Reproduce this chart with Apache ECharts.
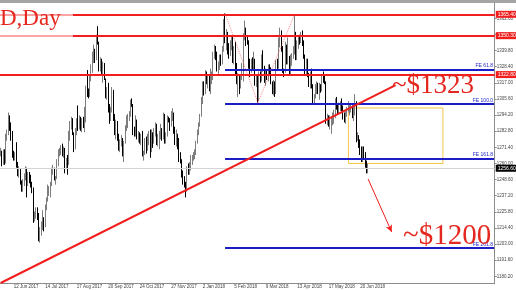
<!DOCTYPE html>
<html><head><meta charset="utf-8">
<script src="https://cdn.jsdelivr.net/npm/echarts@6/dist/echarts.min.js"></script>
<style>html,body{margin:0;padding:0;background:#fff}#c{width:516px;height:290px}</style>
</head><body><div id="c"></div><script>
// ---- Daily XAUUSD data (29 May 2017 .. 28 Jun 2018) ----
const closes = [
1268,1262,1268,
1264,1279,1281,1293,1287,1280,1266,1265,1265,1260,1254,1254,1246,1242,1246,1249,1256,1246,1250,1249,1244,1242,
1219,1225,1227,1223,1209,1213,1215,1219,1217,1228,1234,1241,1241,1245,1255,1255,1250,1250,1260,1269,1269,
1270,1268,1268,1258,1262,1260,1278,1288,1289,1281,1273,1282,1289,1285,1292,1284,1289,1286,1290,1313,1310,1309,1321,
1324,1335,1339,1334,1349,1346,1328,1331,1324,1329,1320,1307,1311,1301,1293,1297,1311,1294,1283,1287,1280,
1271,1274,1275,1268,1274,1285,1290,1293,1297,1303,1302,1283,1281,1290,1279,1281,1276,1278,1266,1266,1275,1270,
1275,1277,1269,1281,1275,1282,1285,1274,1278,1281,1283,1278,1294,1276,1280,1292,1290,1287,1294,1294,1282,1275,
1280,1276,1266,1263,1253,1248,1246,1242,1257,1255,1256,1261,1264,1266,1267,1275,1282,1287,1294,1303,
1316,1312,1321,1320,1320,1313,1319,1322,1338,1340,1336,1327,1327,1333,1332,1341,1360,1348,1351,1340,1339,1343,
1348,1333,1338,1325,1318,1318,1315,1321,1329,1350,1354,1347,1346,1330,1324,1332,1330,1332,1318,1318,
1305,1323,1320,1335,1327,1322,1324,1321,1327,1325,1317,1313,1317,1311,1331,1328,1347,1354,1341,1325,1324,
1343,1333,1333,1326,1332,1336,1339,1352,1334,1345,1347,1346,1349,1344,1336,1323,1332,1323,1316,1323,1315,
1304,1306,1313,1314,1313,1313,1312,1321,1320,1318,1290,1291,1290,1291,1291,1291,1293,1304,1302,1297,1299,1302,1298,
1293,1292,1295,1298,1298,1298,1298,1293,1298,1302,1278,1279,1276,1268,1262,1269,1266,1260,1256,1257
];
const highs = [
1271,1269,1270,
1270,1281,1284,1296,1294,1289,1283,1269,1268,1275,1261,1258,1256,1248,1249,1253,1258,1257,1254,1254,1252,1247,
1243,1226,1229,1229,1225,1215,1219,1227,1222,1231,1236,1245,1244,1247,1257,1259,1257,1251,1263,1270,1271,
1273,1274,1272,1271,1264,1266,1283,1290,1293,1292,1282,1285,1292,1301,1294,1293,1292,1293,1300,1315,1326,1313,1322,
1330,1339,1344,1341,1351,1357,1335,1335,1334,1332,1331,1320,1314,1317,1302,1300,1314,1312,1295,1291,1290,
1281,1277,1280,1278,1276,1287,1294,1295,1297,1305,1306,1302,1286,1294,1291,1283,1282,1281,1283,1269,1278,1279,
1281,1283,1284,1284,1282,1285,1289,1288,1281,1283,1288,1285,1296,1295,1282,1294,1293,1292,1297,1299,1296,1286,
1284,1281,1278,1268,1263,1255,1251,1247,1258,1260,1261,1266,1266,1268,1270,1276,1284,1289,1295,1307,
1318,1318,1326,1325,1322,1322,1327,1325,1339,1344,1343,1339,1332,1337,1337,1343,1362,1366,1355,1353,1345,1347,
1350,1350,1343,1346,1331,1324,1322,1323,1331,1352,1361,1356,1350,1347,1334,1334,1335,1339,1334,1323,
1322,1325,1325,1337,1340,1329,1327,1326,1330,1330,1328,1318,1319,1318,1333,1334,1349,1356,1354,1343,1327,
1346,1344,1349,1336,1337,1338,1343,1365,1353,1347,1350,1351,1353,1354,1347,1337,1334,1334,1324,1325,1327,
1316,1309,1316,1318,1317,1317,1316,1323,1325,1322,1318,1295,1294,1294,1293,1296,1298,1306,1307,1302,1303,1304,1306,
1301,1296,1297,1300,1304,1302,1302,1301,1300,1309,1304,1282,1280,1277,1272,1272,1272,1268,1262,1260
];
const lows = [
1265,1258,1259,
1259,1260,1276,1280,1283,1276,1264,1262,1262,1257,1251,1250,1245,1240,1240,1244,1248,1236,1244,1246,1243,1239,
1218,1219,1221,1220,1205,1204,1209,1213,1212,1215,1227,1233,1237,1236,1244,1252,1248,1245,1249,1258,1265,
1266,1265,1264,1253,1256,1252,1259,1276,1284,1280,1268,1270,1280,1283,1284,1283,1282,1285,1282,1289,1307,1306,1307,
1318,1325,1331,1331,1333,1344,1325,1325,1322,1317,1319,1306,1305,1296,1288,1290,1296,1290,1280,1277,1276,
1269,1268,1272,1265,1261,1274,1283,1285,1290,1293,1300,1280,1279,1279,1277,1275,1274,1273,1265,1262,1266,1267,
1269,1273,1264,1268,1271,1274,1279,1273,1272,1270,1277,1276,1277,1274,1274,1279,1289,1283,1286,1290,1281,1273,
1272,1270,1261,1260,1250,1245,1243,1236,1240,1252,1252,1255,1259,1262,1263,1266,1274,1280,1286,1293,
1302,1308,1309,1316,1313,1311,1309,1316,1319,1334,1333,1325,1322,1326,1329,1330,1339,1345,1340,1337,1334,1336,
1340,1331,1330,1323,1316,1307,1309,1313,1319,1318,1347,1343,1344,1327,1321,1324,1326,1326,1315,1314,
1303,1304,1317,1318,1325,1317,1315,1319,1318,1322,1316,1309,1308,1307,1309,1326,1327,1342,1339,1324,1321,
1324,1330,1330,1322,1323,1329,1334,1337,1333,1333,1341,1344,1345,1343,1334,1322,1322,1321,1314,1313,1313,
1302,1302,1306,1309,1309,1305,1310,1311,1317,1316,1288,1287,1286,1284,1281,1287,1288,1292,1298,1295,1295,1297,1297,
1291,1289,1288,1293,1296,1294,1296,1292,1290,1294,1275,1276,1271,1266,1261,1261,1263,1257,1253,1253
];
const firstOpen = 1266;

const priceTicks = [1180.2,1191.6,1203.0,1214.4,1225.8,1237.2,1248.6,1260.0,1271.4,1282.8,1294.2,1305.6,1317.0,1328.4,1339.8,1351.2,1362.6,1374.0];
const dateTicks = ['12 Jun 2017','14 Jul 2017','17 Aug 2017','20 Sep 2017','24 Oct 2017','27 Nov 2017','2 Jan 2018','5 Feb 2018','9 Mar 2018','13 Apr 2018','17 May 2018','20 Jun 2018'];
const holidays = ['2017-12-25','2018-01-01','2018-03-30'];

const redLevels = [1365.4, 1350.3, 1322.8];
const feLevels = [1326.5, 1301.9, 1263.5, 1200.5];
const feNames = ['FE 61.8','FE 100.0','FE 161.8','FE 261.8'];
const lastPrice = 1256.6;
const feA = ['25 Jan 2018', 1366.0];
const feB = ['1 Mar 2018', 1303.0];
const feC = ['11 Apr 2018', 1365.4];
const trendStart = ['29 May 2017', 1175.5];
const trendEnd = ['27 Jul 2018', 1315.4];
const boxStart = ['7 Jun 2018', 1299.2];
const boxEnd = ['17 Sep 2018', 1260.0];
const arrowStart = ['28 Jun 2018', 1249.0];
const arrowEnd = ['24 Jul 2018', 1211.5];

// ---- categories (trading days incl. future blank days) ----
const MON = ['Jan','Feb','Mar','Apr','May','Jun','Jul','Aug','Sep','Oct','Nov','Dec'];
const cats = [];
{
  const d = new Date(Date.UTC(2017,4,29));
  while (cats.length < 377) {
    const wd = d.getUTCDay(), iso = d.toISOString().slice(0,10);
    if (wd !== 0 && wd !== 6 && holidays.indexOf(iso) < 0)
      cats.push(d.getUTCDate() + ' ' + MON[d.getUTCMonth()] + ' ' + d.getUTCFullYear());
    d.setUTCDate(d.getUTCDate() + 1);
  }
}
const lastCat = cats[cats.length - 1];
const ohlc = closes.map((c, i) => {
  const o = i ? closes[i-1] : firstOpen;
  return [o, c, Math.min(lows[i], o, c), Math.max(highs[i], o, c)];
});

const RED = '#f21d1d', BLUE = '#1d1dc8';
const tickSet = new Set(dateTicks);
const lines = [];
redLevels.forEach(v => lines.push({
  yAxis: v, lineStyle: {color: RED, width: 2, type: 'solid'},
  label: {show: true, position: 'end', distance: 1, formatter: v.toFixed(2), backgroundColor: RED, color: '#fff', fontSize: 5, padding: [1,2], fontFamily: 'Liberation Sans'}
}));
lines.push({
  yAxis: lastPrice, lineStyle: {color: '#d4d4d4', width: 1, type: 'solid'},
  label: {show: true, position: 'end', distance: 1, formatter: lastPrice.toFixed(2), backgroundColor: '#000', color: '#fff', fontSize: 5, padding: [1,2], fontFamily: 'Liberation Sans'}
});
feLevels.forEach((v, i) => lines.push([
  {coord: [feA[0], v], lineStyle: {color: BLUE, width: 2, type: 'solid'},
   label: {show: true, position: 'insideEndTop', distance: 1, formatter: feNames[i], color: BLUE, fontSize: 5, fontFamily: 'Liberation Sans'}},
  {coord: [lastCat, v]}
]));
lines.push([{coord: feA, lineStyle: {color: 'rgba(240,40,40,0.55)', width: 1, type: 'dotted'}, label: {show: false}}, {coord: feB}]);
lines.push([{coord: feB, lineStyle: {color: 'rgba(240,40,40,0.55)', width: 1, type: 'dotted'}, label: {show: false}}, {coord: feC}]);
lines.push([{coord: trendStart, lineStyle: {color: RED, width: 2, type: 'solid'}, label: {show: false}}, {coord: trendEnd}]);
lines.push([{coord: arrowStart, symbol: 'none', lineStyle: {color: RED, width: 1, type: 'solid'}, label: {show: false}},
            {coord: arrowEnd, symbol: 'arrow', symbolSize: [5,7]}]);

const chart = echarts.init(document.getElementById('c'), null, {renderer: 'canvas'});
chart.setOption({
  animation: false,
  backgroundColor: '#fff',
  grid: {left: 0, right: 18, top: 3, bottom: 7, containLabel: false},
  xAxis: {
    type: 'category', data: cats, boundaryGap: true,
    axisLine: {lineStyle: {color: '#8c8c8c', width: 1}},
    axisTick: {alignWithLabel: true, length: 2, interval: (i, v) => tickSet.has(v), lineStyle: {color: '#8c8c8c'}},
    axisLabel: {interval: (i, v) => tickSet.has(v), align: 'left', margin: 1, fontSize: 4.5, color: '#444', fontFamily: 'Liberation Sans'},
    splitLine: {show: false}
  },
  yAxis: {
    type: 'value', position: 'right', min: 1175.5, max: 1373.4, scale: true,
    axisLine: {show: true, lineStyle: {color: '#8c8c8c', width: 1}},
    axisTick: {show: true, length: 2, customValues: priceTicks, lineStyle: {color: '#8c8c8c'}},
    axisLabel: {customValues: priceTicks, formatter: v => v.toFixed(2), margin: 2, fontSize: 4.5, color: '#444', fontFamily: 'Liberation Sans'},
    splitLine: {show: false}
  },
  series: [{
    type: 'candlestick', data: ohlc, barWidth: 1,
    itemStyle: {color: '#7d7d7d', color0: '#000000', borderColor: '#7d7d7d', borderColor0: '#000000', borderWidth: 1},
    markLine: {silent: true, symbol: ['none','none'], animation: false, data: lines},
    markArea: {silent: true, data: [[
      {coord: boxStart, itemStyle: {color: 'rgba(0,0,0,0)', borderColor: '#f3c44a', borderWidth: 1}},
      {coord: boxEnd}
    ]]}
  }],
  graphic: [
    {type: 'rect', left: 0, top: 0, shape: {width: 516, height: 3}, style: {fill: '#a3a3a3'}, z: 10},
    {type: 'rect', shape: {x: 0, y: 12, width: 73, height: 26}, style: {fill: 'rgba(255,255,255,0.6)'}, z: 10},
    {type: 'text', x: 0, y: 19, style: {text: 'D,Day', font: '23px "Liberation Serif"', fill: '#e5281f', textVerticalAlign: 'middle'}, z: 11},
    {type: 'text', x: 392, y: 86, style: {text: '~$1323', font: '27px "Liberation Serif"', fill: '#e5281f', textVerticalAlign: 'middle'}, z: 11},
    {type: 'text', x: 403, y: 236, style: {text: '~$1200', font: '29px "Liberation Serif"', fill: '#e5281f', textVerticalAlign: 'middle'}, z: 11}
  ]
});
</script></body></html>
